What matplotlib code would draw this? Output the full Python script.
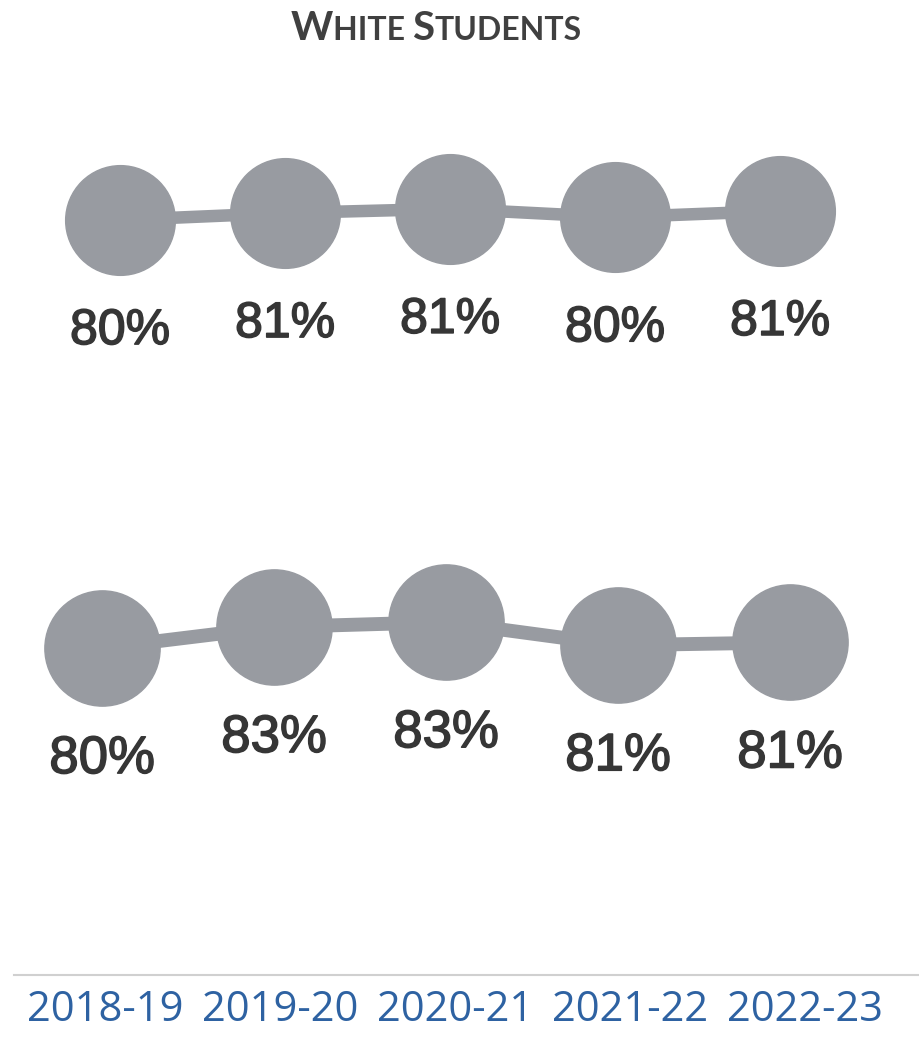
import matplotlib
matplotlib.use("Agg")
import matplotlib.pyplot as plt
import matplotlib.patheffects as pe

# values (positions estimated, labels as printed)
years = ["2018-19", "2019-20", "2020-21", "2021-22", "2022-23"]
top_values = [80.0, 81.0, 81.6, 80.4, 81.3]
top_labels = ["80%", "81%", "81%", "80%", "81%"]
bottom_values = [80.0, 83.0, 83.7, 80.4, 80.8]
bottom_labels = ["80%", "83%", "83%", "81%", "81%"]

dot_color = "#989ba1"
label_color = "#363636"
year_color = "#2e62a2"

W, H = 920, 1040
fig = plt.figure(figsize=(W / 100, H / 100), dpi=100)


def px_axes(left, top, width, height):
    # axes placed in pixel units, y measured from top
    return fig.add_axes([left / W, 1 - (top + height) / H, width / W, height / H])


def draw_row(ax, values, labels, msize, lw, fsize):
    x = list(range(len(values)))
    ax.plot(x, values, color=dot_color, lw=lw, marker="o", ms=msize,
            solid_capstyle="butt", zorder=2)
    for xi, v, lab in zip(x, values, labels):
        ax.annotate(lab, (xi, v), xytext=(0, -80), textcoords="offset points",
                    ha="center", va="center", fontsize=fsize,
                    color=label_color, family="Liberation Sans",
                    path_effects=[pe.Stroke(linewidth=1.1, foreground=label_color),
                                  pe.Normal()])
    ax.set_xlim(-0.5, len(values) - 0.5)
    ax.set_ylim(60, 95)
    ax.axis("off")


# top row: centers 120..780 px, 80 -> y 220 px, 7 px per point
ax_top = px_axes(37.5, 115, 825, 245)
draw_row(ax_top, top_values, top_labels, 79, 9, 36)

# bottom row: centers 102..790 px, 80 -> y 648 px
ax_bot = px_axes(16, 543, 860, 245)
draw_row(ax_bot, bottom_values, bottom_labels, 83, 10, 38)

# x axis with year labels
ax_x = px_axes(14, 875, 906, 100)
ax_x.set_xlim(-0.52, 4.657)
ax_x.set_ylim(0, 1)
ax_x.set_xticks(range(len(years)))
ax_x.set_xticklabels(years, fontsize=30, color=year_color, family="Open Sans")
ax_x.tick_params(axis="x", length=0, pad=10)
ax_x.set_yticks([])
for s in ["top", "left", "right"]:
    ax_x.spines[s].set_visible(False)
ax_x.spines["bottom"].set_color("#d0d0d0")
ax_x.spines["bottom"].set_linewidth(1.5)
ax_x.patch.set_alpha(0)

# small-caps title
parts = [("W", 29), ("HITE ", 23), ("S", 29), ("TUDENTS", 23)]
texts = [fig.text(0, 1 - 40 / H, p, fontsize=s, fontweight="bold", color="#404040",
                  family="Lato", va="baseline", ha="left") for p, s in parts]
fig.canvas.draw()
r = fig.canvas.get_renderer()
widths = [t.get_window_extent(r).width for t in texts]
x0 = 436 - sum(widths) / 2
for t, w in zip(texts, widths):
    t.set_x(x0 / W)
    x0 += w

fig.savefig("out.png", dpi=100)
